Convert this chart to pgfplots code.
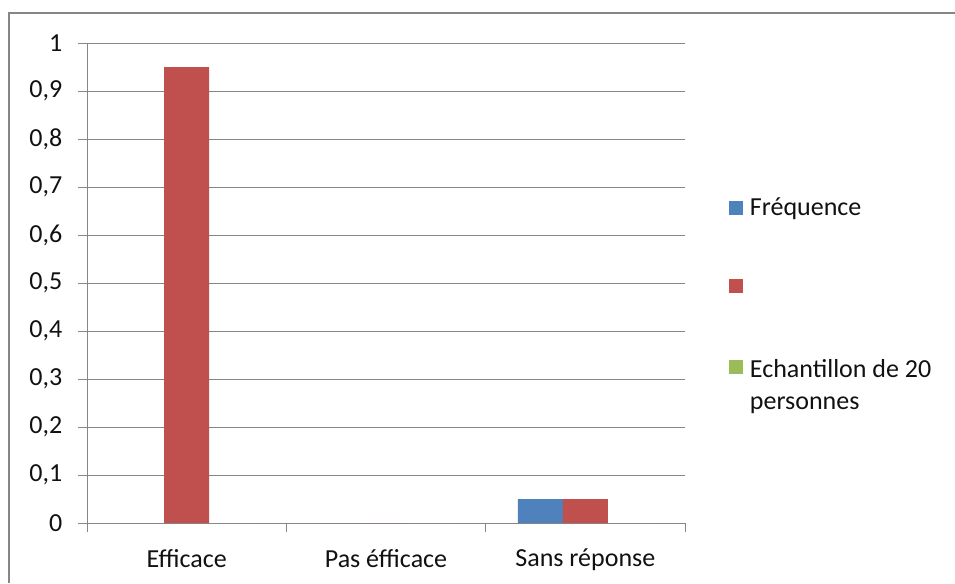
\documentclass[border=0pt]{standalone}
\usepackage{fontspec}
\setmainfont{Carlito}
\usepackage{pgfplots}
\pgfplotsset{compat=1.18}
\definecolor{exblue}{HTML}{4F81BD}
\definecolor{exred}{HTML}{C0504D}
\definecolor{exgreen}{HTML}{9BBB59}
\definecolor{exgrid}{HTML}{868686}
\definecolor{extext}{HTML}{111111}
\begin{document}
\begin{tikzpicture}
\useasboundingbox (0pt,0pt) rectangle (716.25pt,437.25pt);
\draw[exgrid, line width=1.5pt] (6.75pt,0pt) -- (6.75pt,427.5pt) -- (716.25pt,427.5pt);
\begin{axis}[
  at={(65.25pt,45pt)}, anchor=south west,
  scale only axis, width=448.5pt, height=360pt,
  xmin=-0.5, xmax=2.5, ymin=0, ymax=1,
  ybar=0pt, bar width=33.75pt,
  axis x line*=bottom, axis y line*=left,
  axis line style={exgrid, line width=0.75pt, -},
  every tick/.style={exgrid, line width=0.75pt},
  tick align=outside, major tick length=7pt,
  ytick={0,0.1,0.2,0.3,0.4,0.5,0.6,0.7,0.8,0.9,1},
  ymajorgrids, grid style={exgrid, line width=0.75pt},
  xtick={-0.5,0.5,1.5,2.5}, xticklabels={},
  extra x ticks={0,1,2},
  extra x tick labels={Efficace,Pas éfficace,Sans réponse},
  extra x tick style={major tick length=0pt, grid=none},
  /pgf/number format/.cd, use comma, fixed, precision=1, assume math mode=true,
  /pgfplots/.cd,
  ticklabel style={font=\fontsize{19.5}{23}\selectfont, text=extext},
  yticklabel style={xshift=-8pt},
  xticklabel style={yshift=-16pt},
  legend style={at={(1.0736,0.683)}, anchor=north west, draw=none, fill=none,
    font=\fontsize{19.5}{24}\selectfont, text=extext, row sep=40pt, column sep=3pt,
    inner sep=0pt, nodes={inner sep=2pt}},
  legend cell align=left,
  legend image code/.code={\fill[#1] (0pt,-5.25pt) rectangle (10.5pt,5.25pt);},
]
\addplot[fill=exblue, draw=none] coordinates {(0,0) (1,0) (2,0.05)};
\addplot[fill=exred, draw=none] coordinates {(0,0.95) (1,0) (2,0.05)};
\addplot[fill=exgreen, draw=none] coordinates {(0,0) (1,0) (2,0)};
\legend{Fréquence,{\vphantom{Fréquence}},{\begin{tabular}[t]{@{}l@{}}Echantillon de 20\\personnes\end{tabular}}}
\end{axis}
\end{tikzpicture}
\end{document}
